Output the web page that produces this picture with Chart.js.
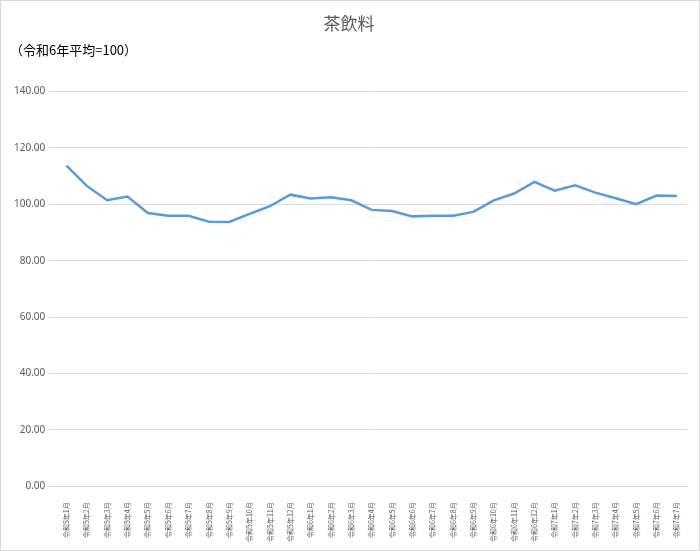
<!DOCTYPE html>
<html><head><meta charset="utf-8">
<script src="https://cdn.jsdelivr.net/npm/chart.js@4"></script>
<style>
body{margin:0;background:#fff;}
#wrap{position:absolute;left:0;top:0;width:698px;height:549px;border:1px solid #d9d9d9;}
#sub{position:absolute;left:10px;top:40px;font:13px "Noto Sans CJK JP";color:#000;}
</style></head><body>
<div id="wrap"><canvas id="c" width="698" height="549"></canvas></div>
<div id="sub">（令和6年平均=100）</div>
<script>
const categories=[];
for(let m=1;m<=12;m++)categories.push('令和5年'+m+'月');
for(let m=1;m<=12;m++)categories.push('令和6年'+m+'月');
for(let m=1;m<=7;m++)categories.push('令和7年'+m+'月');
const values=[113.7,106.5,101.4,102.7,96.9,95.9,95.9,93.8,93.7,96.6,99.3,103.4,102.0,102.5,101.4,98.0,97.6,95.7,95.9,95.9,97.3,101.4,103.8,107.9,104.8,106.7,104.1,102.1,100.0,103.1,102.9];
new Chart(document.getElementById('c'),{type:'line',
data:{labels:categories,datasets:[{data:values,borderColor:'#5B9BD5',borderWidth:2.5,pointRadius:0,tension:0}]},
options:{responsive:false,animation:false,
layout:{padding:{left:10,right:12,top:6,bottom:0}},
plugins:{legend:{display:false},title:{display:true,text:'茶飲料',color:'#595959',font:{family:'Noto Sans CJK JP',size:17,weight:'normal'},padding:{top:6,bottom:58}}},
scales:{
x:{offset:true,grid:{display:false},border:{color:'#d9d9d9'},ticks:{color:'#595959',padding:8,font:{family:'Noto Sans CJK JP',size:7},maxRotation:90,minRotation:90,autoSkip:false}},
y:{min:0,max:140,grid:{color:'#d9d9d9'},border:{display:false},ticks:{stepSize:20,color:'#595959',font:{family:'Noto Sans',size:10},callback:v=>v.toFixed(2)}}
}}});
</script></body></html>
